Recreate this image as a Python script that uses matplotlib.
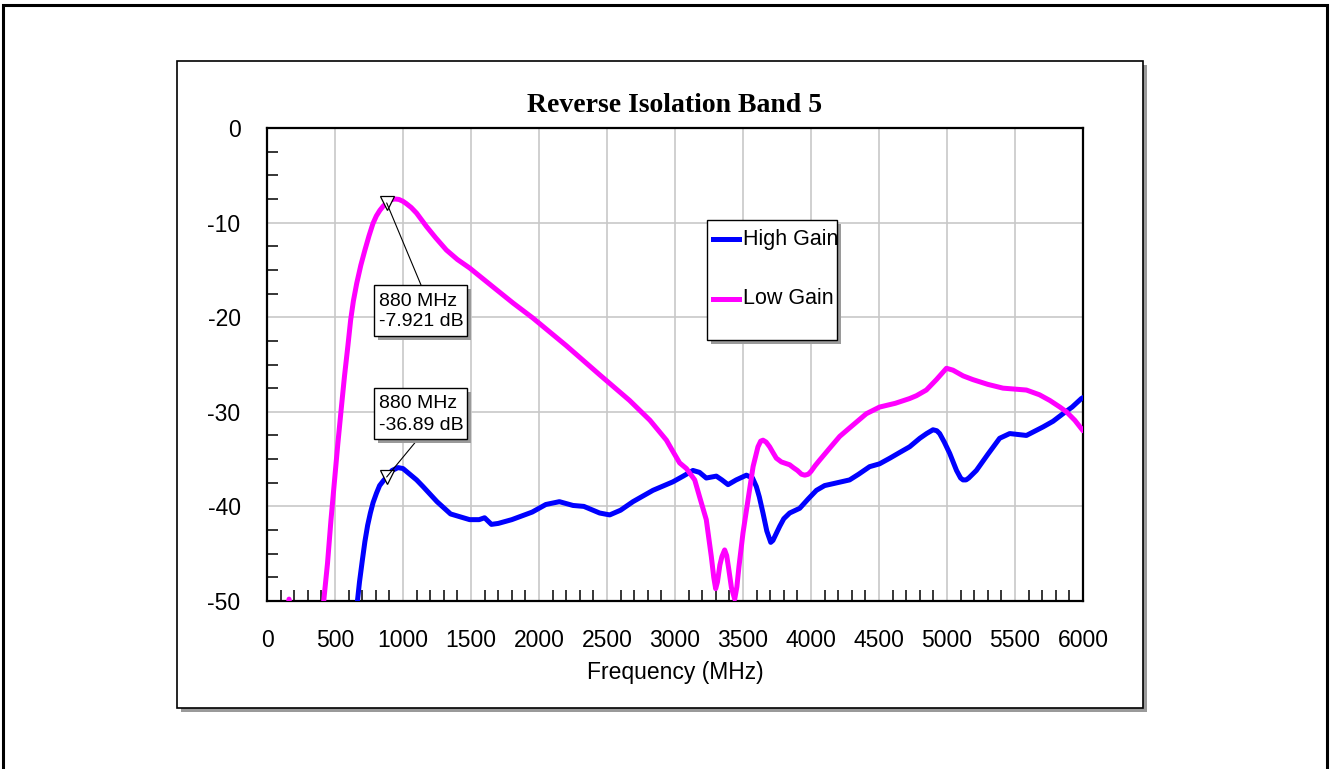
import matplotlib
matplotlib.use("Agg")
import matplotlib.pyplot as plt
from matplotlib.patches import Rectangle
from matplotlib.lines import Line2D
from matplotlib.ticker import MultipleLocator

plt.rcParams["axes.unicode_minus"] = False

# reverse isolation, band 5 -- frequency in MHz, isolation in dB
low_freq = [100, 162, 230, 380, 417, 445, 470, 495, 520, 545, 570, 595, 615, 635,
            660, 690, 720, 750, 779, 804, 830, 855, 880, 910, 939, 970, 1000, 1025,
            1060, 1100, 1172, 1240, 1319, 1400, 1490, 1662, 1809, 1956, 2200, 2447,
            2666, 2816, 2937, 2985, 3034, 3084, 3145, 3181, 3230, 3267, 3285, 3299,
            3312, 3330, 3345, 3365, 3380, 3395, 3415, 3439, 3455, 3470, 3500, 3537,
            3574, 3610, 3630, 3647, 3670, 3696, 3720, 3745, 3782, 3843, 3870, 3900,
            3930, 3954, 3980, 4000, 4030, 4064, 4140, 4211, 4284, 4407, 4504, 4620,
            4725, 4775, 4848, 4922, 4996, 5044, 5118, 5191, 5300, 5412, 5584, 5680,
            5756, 5830, 5878, 5940, 6000]
low_gain = [-56.0, -49.8, -56.0, -58.0, -50.0, -46.0, -41.5, -37.5, -33.5, -29.8,
            -26.2, -23.0, -20.3, -18.3, -16.4, -14.5, -12.9, -11.4, -10.1, -9.3,
            -8.7, -8.25, -7.921, -7.6, -7.5, -7.55, -7.75, -8.0, -8.4, -9.0, -10.4,
            -11.6, -12.9, -13.9, -14.8, -16.8, -18.5, -20.1, -23.0, -26.1, -28.8,
            -30.9, -33.0, -34.2, -35.4, -36.0, -37.2, -39.0, -41.4, -45.3, -47.5,
            -48.7, -48.0, -46.2, -45.3, -44.6, -45.2, -46.6, -48.6, -49.8, -48.5,
            -46.4, -42.8, -39.3, -35.8, -33.7, -33.1, -33.0, -33.2, -33.7, -34.3,
            -34.9, -35.3, -35.6, -35.9, -36.2, -36.6, -36.7, -36.6, -36.3, -35.7,
            -35.1, -33.8, -32.6, -31.7, -30.2, -29.5, -29.1, -28.6, -28.3, -27.7,
            -26.6, -25.4, -25.6, -26.2, -26.6, -27.1, -27.5, -27.7, -28.2, -28.8,
            -29.5, -30.0, -30.9, -32.0]

high_freq = [640, 665, 680, 700, 720, 740, 760, 780, 805, 828, 855, 880, 920, 964,
             1000, 1050, 1100, 1147, 1250, 1350, 1490, 1560, 1600, 1650, 1700, 1800,
             1950, 2050, 2150, 2250, 2330, 2446, 2520, 2600, 2691, 2838, 2985, 3060,
             3132, 3180, 3230, 3304, 3345, 3390, 3450, 3525, 3570, 3598, 3620, 3647,
             3675, 3704, 3720, 3740, 3770, 3800, 3843, 3917, 3980, 4040, 4100, 4162,
             4284, 4350, 4431, 4504, 4580, 4652, 4725, 4800, 4850, 4897, 4925, 4946,
             4980, 5020, 5070, 5100, 5118, 5140, 5160, 5216, 5300, 5387, 5461, 5584,
             5706, 5780, 5853, 5920, 5988, 6000]
high_gain = [-53.0, -50.0, -48.0, -45.8, -43.7, -42.0, -40.7, -39.6, -38.6, -37.8,
             -37.3, -36.89, -36.2, -35.9, -36.0, -36.6, -37.2, -37.9, -39.5, -40.8,
             -41.4, -41.4, -41.2, -41.9, -41.8, -41.4, -40.6, -39.8, -39.5, -39.9,
             -40.0, -40.7, -40.9, -40.4, -39.5, -38.3, -37.4, -36.8, -36.2, -36.4,
             -37.0, -36.8, -37.2, -37.7, -37.2, -36.7, -37.0, -37.9, -39.0, -40.7,
             -42.6, -43.8, -43.6, -43.0, -42.1, -41.3, -40.7, -40.2, -39.2, -38.3,
             -37.8, -37.6, -37.2, -36.6, -35.8, -35.5, -34.9, -34.3, -33.7, -32.8,
             -32.3, -31.9, -32.0, -32.3, -33.2, -34.4, -36.2, -37.0, -37.2, -37.2,
             -37.0, -36.2, -34.5, -32.8, -32.3, -32.5, -31.6, -31.0, -30.2, -29.5,
             -28.6, -28.5]

marker_freq = 880
marker_low = -7.921
marker_high = -36.89

W, H = 1330, 769
SANS = "Liberation Sans"
SHADOW = "#9a9a9a"

fig = plt.figure(figsize=(W / 100, H / 100), dpi=100)
fig.patch.set_facecolor("white")


def fx(x):
    return x / W


def fy(y):
    return 1 - y / H


def box(x0, y0, x1, y1, lw=1.2, shadow=4, z=-2):
    # white box with a grey drop shadow, given in image pixels (top-left origin)
    if shadow:
        fig.add_artist(Rectangle((fx(x0 + shadow), fy(y1 + shadow)), fx(x1 - x0), (y1 - y0) / H,
                                 transform=fig.transFigure, facecolor=SHADOW,
                                 edgecolor="none", zorder=z))
    fig.add_artist(Rectangle((fx(x0), fy(y1)), fx(x1 - x0), (y1 - y0) / H,
                             transform=fig.transFigure, facecolor="white",
                             edgecolor="black", lw=lw, zorder=z + 0.5))


# outer frame and chart panel
fig.add_artist(Rectangle((fx(3), fy(780)), fx(1324), 775 / H, transform=fig.transFigure,
                         facecolor="none", edgecolor="black", lw=2.2, zorder=-3))
box(177, 61, 1143, 708, lw=1.2, shadow=4, z=-2)

ax = fig.add_axes([fx(267), fy(601), fx(816), 473 / H])
ax.set_facecolor("white")

ax.plot(high_freq, high_gain, color="#0000ff", lw=3.6, solid_joinstyle="round",
        solid_capstyle="round", zorder=3)
ax.plot(low_freq, low_gain, color="#ff00ff", lw=3.6, solid_joinstyle="round",
        solid_capstyle="round", zorder=3)

ax.set_xlim(0, 6000)
ax.set_ylim(-50, 0)
ax.xaxis.set_major_locator(MultipleLocator(500))
ax.xaxis.set_minor_locator(MultipleLocator(100))
ax.yaxis.set_major_locator(MultipleLocator(10))
ax.yaxis.set_minor_locator(MultipleLocator(2.5))
ax.grid(True, which="major", color="#c8c8c8", lw=1.2, zorder=0)
ax.set_axisbelow(True)
ax.tick_params(which="major", length=0, labelsize=16.5, pad=19)
ax.tick_params(axis="x", which="major", pad=20)
ax.tick_params(which="minor", direction="in", length=8, width=1.1, color="black")
for lab in ax.get_xticklabels() + ax.get_yticklabels():
    lab.set_fontfamily(SANS)
for sp in ax.spines.values():
    sp.set_linewidth(1.6)

ax.set_xlabel("Frequency (MHz)", fontsize=16.5, fontfamily=SANS, labelpad=7)
fig.text(fx(675), fy(106), "Reverse Isolation Band 5", ha="center", va="center",
         fontsize=20, fontweight="bold", fontfamily="Liberation Serif")

# markers at 880 MHz with their readout boxes
for val, (bx0, by0, bx1, by1), anchor in [
        (marker_low, (374, 285, 467, 336), (421, 285)),
        (marker_high, (374, 388, 467, 439), (418, 439))]:
    ax.plot([marker_freq], [val], marker="v", ms=10, mfc="white", mec="black",
            mew=0.9, zorder=4, clip_on=False)
    ax.annotate("", xy=(marker_freq, val), xycoords="data",
                xytext=(anchor[0], H - anchor[1]), textcoords="figure pixels",
                arrowprops=dict(arrowstyle="-", lw=0.8, color="black",
                                shrinkA=0, shrinkB=0), zorder=4)
    box(bx0, by0, bx1, by1, lw=1.0, shadow=4, z=5)
    fig.text(fx(bx0 + 5), fy(by0 + 16), f"{marker_freq} MHz", ha="left", va="center",
             fontsize=14, fontfamily=SANS, zorder=7)
    fig.text(fx(bx0 + 5), fy(by0 + 37), f"{val:.4g} dB", ha="left", va="center",
             fontsize=14, fontfamily=SANS, zorder=7)

# legend panel
box(707, 220, 837, 340, lw=1.0, shadow=4, z=5)
for yy, col, name in [(239, "#0000ff", "High Gain"), (299, "#ff00ff", "Low Gain")]:
    fig.add_artist(Line2D([fx(713), fx(739)], [fy(yy), fy(yy)], transform=fig.transFigure,
                          color=col, lw=3.6, zorder=7))
    fig.text(fx(743), fy(yy), name, ha="left", va="center", fontsize=15.5,
             fontfamily=SANS, zorder=7)

fig.savefig("out.png", dpi=100)
